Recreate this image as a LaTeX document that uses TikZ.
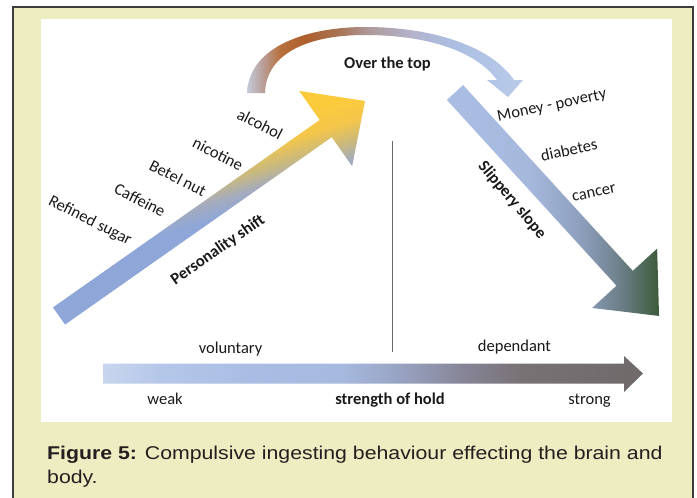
\documentclass[tikz,border=0pt]{standalone}
\usepackage{fontspec}
\setmainfont{Carlito}
\newfontfamily\capfont[FakeStretch=1.15]{Liberation Sans}
\definecolor{bgy}{HTML}{EEECC1}
\definecolor{framec}{HTML}{3C3C3C}
\definecolor{txt}{HTML}{1A1A1A}
\definecolor{capc}{HTML}{231F20}
\definecolor{vline}{HTML}{6A6A6A}
% left arrow colours
\definecolor{lb0}{HTML}{8EA7D8}
\definecolor{lb1}{HTML}{A4ABBE}
\definecolor{lb2}{HTML}{C9B97E}
\definecolor{lb3}{HTML}{F4C64A}
\definecolor{lb4}{HTML}{FCCB3C}
% arc colours
\definecolor{a0}{HTML}{C6CADB}
\definecolor{a1}{HTML}{B9A19E}
\definecolor{a2}{HTML}{B8703D}
\definecolor{a3}{HTML}{AD5F2C}
\definecolor{a4}{HTML}{A87456}
\definecolor{a5}{HTML}{AE9A9C}
\definecolor{a6}{HTML}{B3B2CB}
\definecolor{a7}{HTML}{ABBEE2}
\definecolor{a8}{HTML}{B9CBEA}
% right arrow colours
\definecolor{r0}{HTML}{AABEE4}
\definecolor{r1}{HTML}{A5B8DC}
\definecolor{r2}{HTML}{8E9FBE}
\definecolor{r3}{HTML}{6D8089}
\definecolor{r4}{HTML}{3C5A3A}
% bottom arrow colours
\definecolor{bt0}{HTML}{C8D5EE}
\definecolor{bt1}{HTML}{B5C7E9}
\definecolor{bt2}{HTML}{A9BDE4}
\definecolor{bt3}{HTML}{A6B9DF}
\definecolor{bt4}{HTML}{98A3C2}
\definecolor{bt5}{HTML}{878699}
\definecolor{bt6}{HTML}{797275}
\definecolor{bt7}{HTML}{6F696A}
\pgfdeclareverticalshading{leftshade}{100bp}{color(0bp)=(lb0); color(48.5bp)=(lb0); color(51bp)=(lb1); color(53.5bp)=(lb2); color(56.5bp)=(lb3); color(60bp)=(lb4); color(100bp)=(lb4)}
\pgfdeclarehorizontalshading{arcshade}{100bp}{color(0bp)=(a0); color(25bp)=(a0); color(27.7bp)=(a1); color(31bp)=(a2); color(35.5bp)=(a3); color(41.8bp)=(a4); color(47.3bp)=(a5); color(54.5bp)=(a6); color(61.8bp)=(a7); color(75bp)=(a8); color(100bp)=(a8)}
\pgfdeclarehorizontalshading{rshade}{100bp}{color(0bp)=(r0); color(25bp)=(r0); color(44.6bp)=(r1); color(56.4bp)=(r2); color(65.8bp)=(r3); color(75bp)=(r4); color(100bp)=(r4)}
\pgfdeclarehorizontalshading{botshade}{100bp}{color(0bp)=(bt0); color(25bp)=(bt0); color(30.3bp)=(bt1); color(38.6bp)=(bt2); color(47bp)=(bt3); color(52.5bp)=(bt4); color(58.1bp)=(bt5); color(63.6bp)=(bt6); color(75bp)=(bt7); color(100bp)=(bt7)}
\begin{document}
\begin{tikzpicture}[x=1pt,y=-1pt,
  lbl/.style={inner sep=0pt, font=\fontsize{16.5}{18}\selectfont, text=txt},
  blbl/.style={inner sep=0pt, font=\fontsize{16.5}{18}\selectfont\bfseries, text=txt},
  captxt/.style={inner sep=0pt, anchor=base west, font=\capfont\fontsize{18.5}{24}\selectfont, text=capc}]
\useasboundingbox (0,0) rectangle (697,498);
\fill[white] (0,0) rectangle (697,498);
\draw[framec, line width=1.2pt, fill=bgy] (13,7) rectangle (693,510);
\fill[white] (41,19) rectangle (672,422);

% curved arrow "over the top"
\begin{scope}
\clip (247,93) .. controls (249,45) and (310,27) .. (365,27)
  .. controls (430,27) and (490,45) .. (514,80)
  -- (523,80) -- (508,97) -- (487,80) -- (497,80)
  .. controls (475,50) and (425,35) .. (365,35)
  .. controls (305,35) and (266,55) .. (265,93) -- cycle;
\shade[shading=arcshade] (247,20) rectangle (523,100);
\end{scope}

% left rising arrow
\begin{scope}
\clip[shift={(59,316)}, rotate=35.1] (0,-10.5) -- (326,-10.5) -- (326,-46) -- (374,0) -- (326,46) -- (326,10.5) -- (0,10.5) -- cycle;
\shade[shading=leftshade, transform canvas={rotate around={17:(210,210)}}] (-60,40) rectangle (480,380);
\end{scope}

% right descending arrow
\begin{scope}
\clip[shift={(455,92.5)}, rotate=-47.6] (0,-11) -- (251.6,-11) -- (251.6,-44) -- (302.6,0) -- (251.6,44) -- (251.6,11) -- (0,11) -- cycle;
\shade[shading=rshade] (447,80) rectangle (659,320);
\end{scope}

% bottom arrow
\begin{scope}
\clip (103,363.5) -- (624,363.5) -- (624,356) -- (643,373.5) -- (624,392) -- (624,383.5) -- (103,383.5) -- cycle;
\shade[shading=botshade] (103,356) rectangle (643,392);
\end{scope}

% divider
\coordinate (vtop) at (392,141);
\coordinate (vbot) at (392,352);
\draw[vline, line width=0.9pt] (vtop) -- (vbot);

% labels
\node[lbl, rotate=-27] (sugar) at (90,221) {Refined sugar};
\node[lbl, rotate=-27] (caff) at (140,200) {Caffeine};
\node[lbl, rotate=-27] (betel) at (178,178) {Betel nut};
\node[lbl, rotate=-27] (nic) at (218,154) {nicotine};
\node[lbl, rotate=-27] (alc) at (260,124) {alcohol};
\node[blbl, rotate=35] (pers) at (218,250) {Personality shift};
\node[blbl, anchor=base] (over) at (387.5,68) {Over the top};
\node[lbl, rotate=12] (money) at (552,106) {Money - poverty};
\node[lbl, rotate=12] (diab) at (569,150) {diabetes};
\node[lbl, rotate=12] (canc) at (594,193) {cancer};
\node[blbl, rotate=-50] (slip) at (512,200) {Slippery slope};
\node[lbl, anchor=base] (vol) at (230.5,353) {voluntary};
\node[lbl, anchor=base] (dep) at (514.5,351) {dependant};
\node[lbl, anchor=base] (weak) at (165,404) {weak};
\node[blbl, anchor=base] (hold) at (390,404) {strength of hold};
\node[lbl, anchor=base] (strong) at (589.5,404) {strong};

% caption
\node[captxt] (cap1) at (47,459) {\textbf{Figure 5:} Compulsive ingesting behaviour effecting the brain and};
\node[captxt] (cap2) at (47,483) {body.};
\end{tikzpicture}
\end{document}
